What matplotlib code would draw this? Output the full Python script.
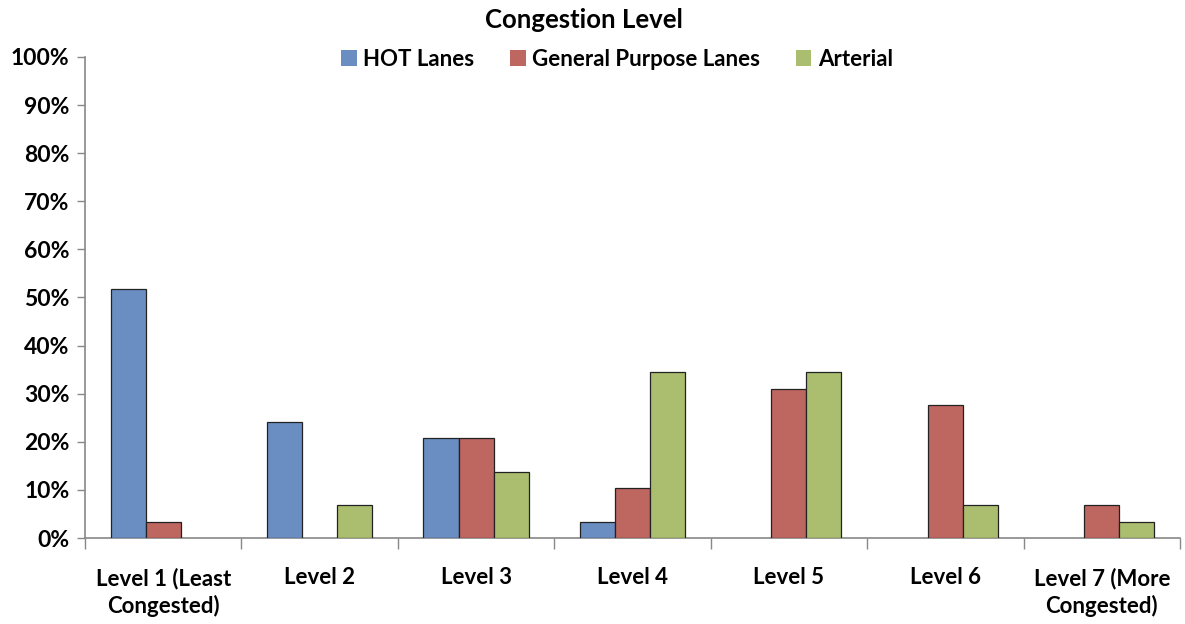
import matplotlib
matplotlib.use("Agg")
import matplotlib.pyplot as plt
import numpy as np
from matplotlib.ticker import FixedLocator, PercentFormatter

plt.rcParams['font.family'] = ['Lato', 'DejaVu Sans']
plt.rcParams['font.weight'] = 'bold'

categories = ["Level 1 (Least\nCongested)", "Level 2", "Level 3", "Level 4",
              "Level 5", "Level 6", "Level 7 (More\nCongested)"]
series_names = ["HOT Lanes", "General Purpose Lanes", "Arterial"]
hot = [51.7, 24.1, 20.7, 3.4, 0.0, 0.0, 0.0]
gp = [3.4, 0.0, 20.7, 10.3, 31.0, 27.6, 6.9]
arterial = [0.0, 6.9, 13.8, 34.5, 34.5, 6.9, 3.4]
colors = ["#6A8EC1", "#BE6660", "#ABBE6F"]

fig = plt.figure(figsize=(11.85, 6.24), dpi=100)
ax = fig.add_axes([0.0717, 0.1378, 0.9241, 0.7709])

x = np.arange(len(categories))
w = 0.224
for i, (vals, name, c) in enumerate(zip([hot, gp, arterial], series_names, colors)):
    lws = [0.9 if v > 0 else 0.0 for v in vals]
    ax.bar(x + (i - 1) * w, vals, width=w, color=c, edgecolor="#222222",
           linewidth=lws, label=name, zorder=3)

ax.set_xlim(-0.5, len(categories) - 0.5)
ax.set_ylim(0, 100)
ax.set_yticks(np.arange(0, 101, 10))
ax.yaxis.set_major_formatter(PercentFormatter(decimals=0))
ax.tick_params(axis='y', direction='out', length=6, width=1, color="#888888",
               labelsize=16.5, pad=5)

ax.xaxis.set_major_locator(FixedLocator(np.arange(-0.5, len(categories), 1.0)))
ax.xaxis.set_minor_locator(FixedLocator(x))
ax.set_xticklabels([""] * len(ax.get_xticks()))
ax.set_xticklabels(categories, minor=True)
ax.tick_params(axis='x', which='major', direction='out', length=8, width=1, color="#888888")
ax.tick_params(axis='x', which='minor', length=0, labelsize=16, pad=21)
for lbl in ax.get_xticklabels(minor=True):
    lbl.set_fontweight('bold')
    lbl.set_linespacing(1.35)
for lbl in ax.get_yticklabels():
    lbl.set_fontweight('bold')

for s in ["top", "right"]:
    ax.spines[s].set_visible(False)
for s in ["left", "bottom"]:
    ax.spines[s].set_color("#888888")
    ax.spines[s].set_linewidth(1.2)

fig.text(0.493, 0.968, "Congestion Level", ha="center", va="center",
         fontsize=18.5, fontweight="bold")
leg = ax.legend(loc="center", bbox_to_anchor=(0.486, 0.995), ncol=3, frameon=False,
                fontsize=16, handlelength=0.7, handleheight=0.7,
                columnspacing=1.6, handletextpad=0.3)
for h in leg.legend_handles:
    h.set_edgecolor("none")

fig.savefig("out.png", dpi=100)
